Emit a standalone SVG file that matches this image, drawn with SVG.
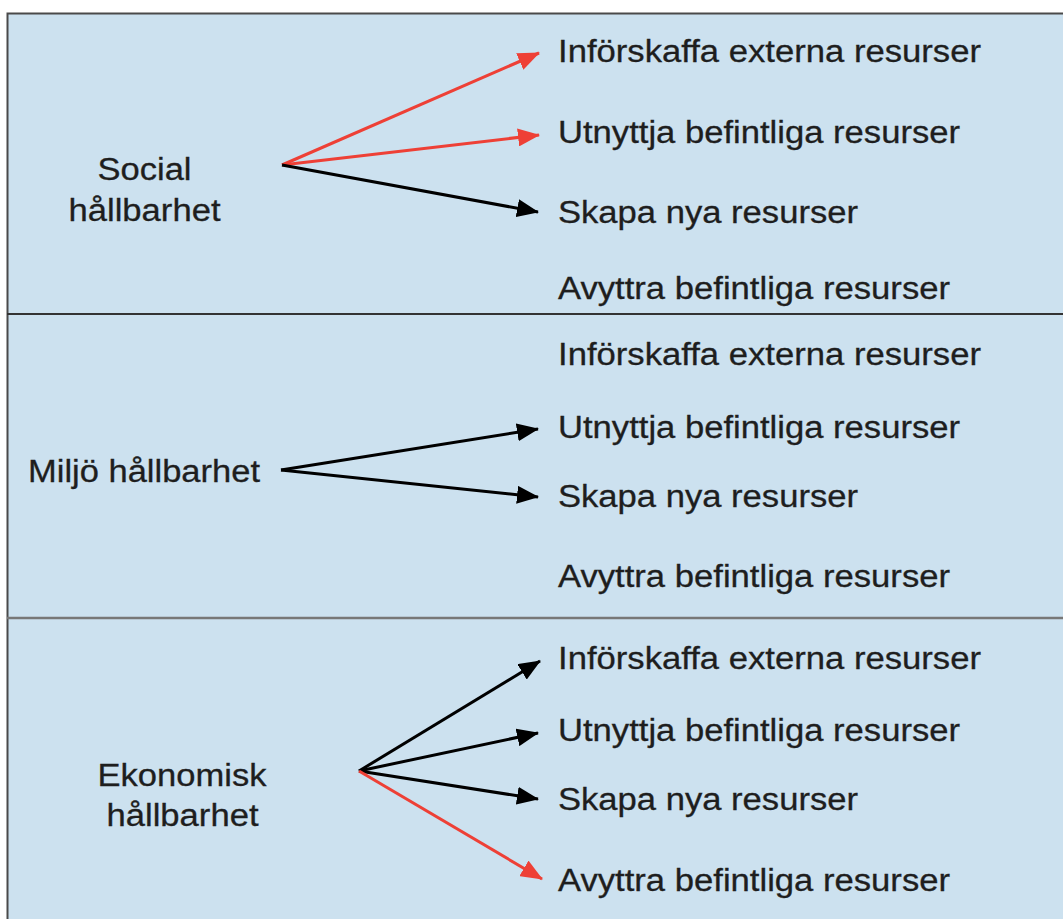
<svg xmlns="http://www.w3.org/2000/svg" width="1063" height="919" viewBox="0 0 1063 919">
<style>
  .t { font-family: "Liberation Sans", Arial, sans-serif; font-size: 31px; fill: #1e1e1e; stroke: #1e1e1e; stroke-width: 0.3; }
  .c { stroke-width: 3; fill: none; }
  .blk { stroke: #000; }
  .red { stroke: #ee4036; }
</style>
<defs>
  <marker id="ahb" markerUnits="userSpaceOnUse" markerWidth="22" markerHeight="18" refX="21" refY="9" orient="auto">
    <path d="M0,0 L22,9 L0,18 z" fill="#000"/>
  </marker>
  <marker id="ahr" markerUnits="userSpaceOnUse" markerWidth="22" markerHeight="18" refX="21" refY="9" orient="auto">
    <path d="M0,0 L22,9 L0,18 z" fill="#ee4036"/>
  </marker>
</defs>
<rect width="1063" height="919" fill="#ffffff"/>
<g id="panels">
  <rect x="7.5" y="13.5" width="1070" height="920" fill="#cce1ef" stroke="#4a4a4a" stroke-width="2"/>
  <line x1="7" y1="314" x2="1063" y2="314" stroke="#333" stroke-width="2"/>
  <line x1="7" y1="618" x2="1063" y2="618" stroke="#777" stroke-width="2.5"/>
</g>
<g id="connectors">
  <line class="c red" x1="282" y1="165" x2="539" y2="53" marker-end="url(#ahr)"/>
  <line class="c red" x1="282" y1="165" x2="539" y2="135" marker-end="url(#ahr)"/>
  <line class="c blk" x1="282" y1="165" x2="538" y2="212" marker-end="url(#ahb)"/>
  <line class="c blk" x1="281" y1="470" x2="538" y2="429" marker-end="url(#ahb)"/>
  <line class="c blk" x1="281" y1="470" x2="538" y2="497" marker-end="url(#ahb)"/>
  <line class="c blk" x1="359" y1="771" x2="540" y2="661" marker-end="url(#ahb)"/>
  <line class="c blk" x1="359" y1="771" x2="538" y2="733" marker-end="url(#ahb)"/>
  <line class="c blk" x1="359" y1="771" x2="538" y2="799" marker-end="url(#ahb)"/>
  <line class="c red" x1="359" y1="771" x2="542" y2="879" marker-end="url(#ahr)"/>
</g>
<g id="social">
  <text class="t" x="97.5" y="180" textLength="94" lengthAdjust="spacingAndGlyphs">Social</text>
  <text class="t" x="68.5" y="221" textLength="152" lengthAdjust="spacingAndGlyphs">hållbarhet</text>
</g>
<g id="miljo">
  <text class="t" x="28" y="482" textLength="232" lengthAdjust="spacingAndGlyphs">Miljö hållbarhet</text>
</g>
<g id="ekonomisk">
  <text class="t" x="97.5" y="786" textLength="169" lengthAdjust="spacingAndGlyphs">Ekonomisk</text>
  <text class="t" x="106.5" y="826" textLength="152" lengthAdjust="spacingAndGlyphs">hållbarhet</text>
</g>
<g id="social-options">
  <text class="t" x="558" y="62" textLength="423" lengthAdjust="spacingAndGlyphs">Införskaffa externa resurser</text>
  <text class="t" x="558" y="143" textLength="402" lengthAdjust="spacingAndGlyphs">Utnyttja befintliga resurser</text>
  <text class="t" x="558" y="223" textLength="300" lengthAdjust="spacingAndGlyphs">Skapa nya resurser</text>
  <text class="t" x="558" y="299" textLength="392" lengthAdjust="spacingAndGlyphs">Avyttra befintliga resurser</text>
</g>
<g id="miljo-options">
  <text class="t" x="558" y="365" textLength="423" lengthAdjust="spacingAndGlyphs">Införskaffa externa resurser</text>
  <text class="t" x="558" y="438" textLength="402" lengthAdjust="spacingAndGlyphs">Utnyttja befintliga resurser</text>
  <text class="t" x="558" y="507" textLength="300" lengthAdjust="spacingAndGlyphs">Skapa nya resurser</text>
  <text class="t" x="558" y="587" textLength="392" lengthAdjust="spacingAndGlyphs">Avyttra befintliga resurser</text>
</g>
<g id="ekonomisk-options">
  <text class="t" x="558" y="669" textLength="423" lengthAdjust="spacingAndGlyphs">Införskaffa externa resurser</text>
  <text class="t" x="558" y="741" textLength="402" lengthAdjust="spacingAndGlyphs">Utnyttja befintliga resurser</text>
  <text class="t" x="558" y="810" textLength="300" lengthAdjust="spacingAndGlyphs">Skapa nya resurser</text>
  <text class="t" x="558" y="891" textLength="392" lengthAdjust="spacingAndGlyphs">Avyttra befintliga resurser</text>
</g>
</svg>
